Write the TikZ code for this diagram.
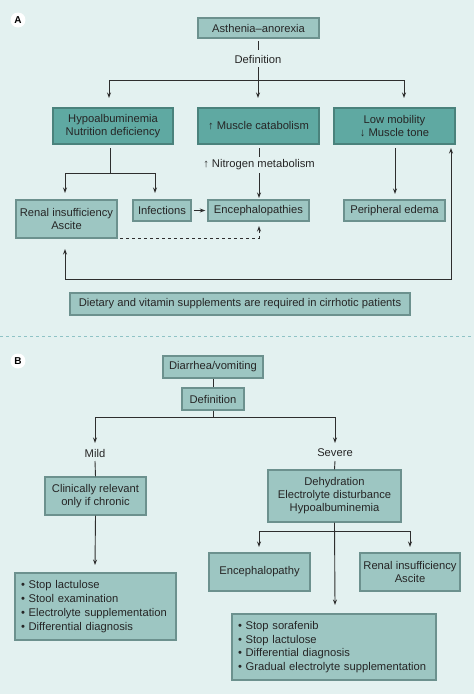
\documentclass[tikz,border=0pt]{standalone}
\usepackage{fontspec}
\setmainfont{Liberation Sans}
\usetikzlibrary{arrows.meta}
\definecolor{bgc}{HTML}{E3F1F0}
\definecolor{darkbox}{HTML}{5FA9A2}
\definecolor{darkedge}{HTML}{4A827C}
\definecolor{lightbox}{HTML}{9DC6C2}
\definecolor{lightedge}{HTML}{6C918E}
\definecolor{linec}{HTML}{2E2E2E}
\definecolor{sepc}{HTML}{8FC3C6}
\tikzset{
  base/.style={font=\fontsize{11.2}{13}\selectfont, text=black!85, align=center, inner sep=2pt, line width=1.4pt},
  lbox/.style={base, fill=lightbox, draw=lightedge},
  dbox/.style={base, fill=darkbox, draw=darkedge},
  plain/.style={font=\fontsize{11.2}{13}\selectfont, text=black!85, inner sep=1pt},
  bullbox/.style={lbox, align=left, font=\fontsize{11.2}{13.8}\selectfont, inner sep=6pt},
  ln/.style={draw=linec, line width=0.9pt},
  arr/.style={ln, -{Stealth[length=5.5pt,width=4pt]}},
  letter/.style={circle, fill=white, inner sep=0pt, minimum size=15pt, font=\bfseries\fontsize{10}{11}\selectfont}
}
\begin{document}
\begin{tikzpicture}[x=1pt,y=-1pt]
\fill[bgc] (0,0) rectangle (474,694);
\useasboundingbox (0,0) rectangle (474,694);

% ---------- Panel A ----------
\node[letter] (la) at (18,20) {A};
\node[lbox, minimum width=121pt, minimum height=20pt] (asth) at (258.5,28) {Asthenia--anorexia};
\node[plain] (defA) at (258,59) {Definition};
\node[dbox, minimum width=120pt, minimum height=36pt] (hypo) at (113,126) {Hypoalbuminemia\\Nutrition deficiency};
\node[dbox, minimum width=121pt, minimum height=36pt] (musc) at (258.5,126) {↑ Muscle catabolism};
\node[dbox, minimum width=121pt, minimum height=36pt] (lowm) at (394.5,126) {Low mobility\\↓ Muscle tone};
\node[lbox, minimum width=101pt, minimum height=38pt] (renal) at (66.5,219) {Renal insufficiency\\Ascite};
\node[lbox, minimum width=58pt, minimum height=21pt] (infe) at (162,210.5) {Infections};
\node[lbox, minimum width=101pt, minimum height=21pt] (ence) at (258.5,210.5) {Encephalopathies};
\node[lbox, minimum width=101pt, minimum height=21pt] (peri) at (394.5,210.5) {Peripheral edema};
\node[plain] (nitro) at (259,165) {↑ Nitrogen metabolism};
\node[lbox, minimum width=340pt, minimum height=22pt] (diet) at (240,304) {Dietary and vitamin supplements are required in cirrhotic patients};

\coordinate (hA) at (258,80);
\coordinate (hAl) at (109,80);
\coordinate (hAr) at (404,80);
\draw[ln] (258,41) -- (258,50);
\draw[ln] (258,67) -- (hA);
\draw[ln] (hAl) -- (hAr);
\draw[arr] (hAl) -- (109,98);
\draw[arr] (hA) -- (258,98);
\draw[arr] (hAr) -- (404,98);

\coordinate (hH) at (110,173);
\draw[ln] (110,148) -- (hH);
\draw[ln] (65,173) -- (155,173);
\draw[arr] (65,173) -- (65,193);
\draw[arr] (155,173) -- (155,193);
\draw[arr] ([xshift=2pt]infe.east) -- ([xshift=-2pt]ence.west);
\draw[ln] (259,148) -- (259,157);
\draw[arr] (259,173) -- (259,198);
\draw[arr] (395,148) -- (395,194);
\draw[arr, dashed] (120,238) -- (259,238) -- (259,226);
\draw[ln, {Stealth[length=5.5pt,width=4pt]}-{Stealth[length=5.5pt,width=4pt]}] (65,249) -- (65,279) -- (451,279) -- (451,148);

% separator
\draw[sepc, line width=0.8pt, dash pattern=on 3pt off 3pt] (0,336) -- (474,336);

% ---------- Panel B ----------
\node[letter] (lb) at (18,361) {B};
\node[lbox, minimum width=100pt, minimum height=22pt] (diar) at (213,367) {Diarrhea/vomiting};
\node[lbox, minimum width=62pt, minimum height=22pt] (defB) at (213,399) {Definition};
\node[plain] (mild) at (95,453) {Mild};
\node[plain] (sev) at (335,453) {Severe};
\node[lbox, minimum width=101pt, minimum height=38pt] (clin) at (95.5,496) {Clinically relevant\\only if chronic};
\node[lbox, minimum width=133pt, minimum height=52pt] (dehy) at (334.5,496) {Dehydration\\Electrolyte disturbance\\Hypoalbuminemia};
\node[lbox, minimum width=101pt, minimum height=38pt] (enc) at (259.5,572) {Encephalopathy};
\node[lbox, minimum width=100pt, minimum height=38pt] (ren2) at (410,572) {Renal insufficiency\\Ascite};
\node[bullbox, minimum width=161pt, minimum height=67pt, text width=149pt] (lbul) at (95.5,606.5) {\textbullet\ Stop lactulose\\\textbullet\ Stool examination\\\textbullet\ Electrolyte supplementation\\\textbullet\ Differential diagnosis};
\node[bullbox, minimum width=204pt, minimum height=66pt, text width=192pt] (rbul) at (334,647) {\textbullet\ Stop sorafenib\\\textbullet\ Stop lactulose\\\textbullet\ Differential diagnosis\\\textbullet\ Gradual electrolyte supplementation};

\draw[ln] (diar.south) -- (defB.north);
\coordinate (hB) at (213,417);
\draw[ln] (defB.south) -- (hB);
\draw[ln] (95,417) -- (335,417);
\draw[arr] (95,417) -- (95,443);
\draw[arr] (335,417) -- (335,443);
\draw[ln] (95,461) -- (clin.north);
\draw[ln] (335,461) -- (dehy.north);
\draw[arr] (clin.south) -- (95,565);
\coordinate (hD) at (335,531);
\draw[ln] (259,531) -- (410,531);
\draw[arr] (259,531) -- (259,547);
\draw[arr] (410,531) -- (410,547);
\draw[arr] (dehy.south) -- (335,605);
\end{tikzpicture}
\end{document}
